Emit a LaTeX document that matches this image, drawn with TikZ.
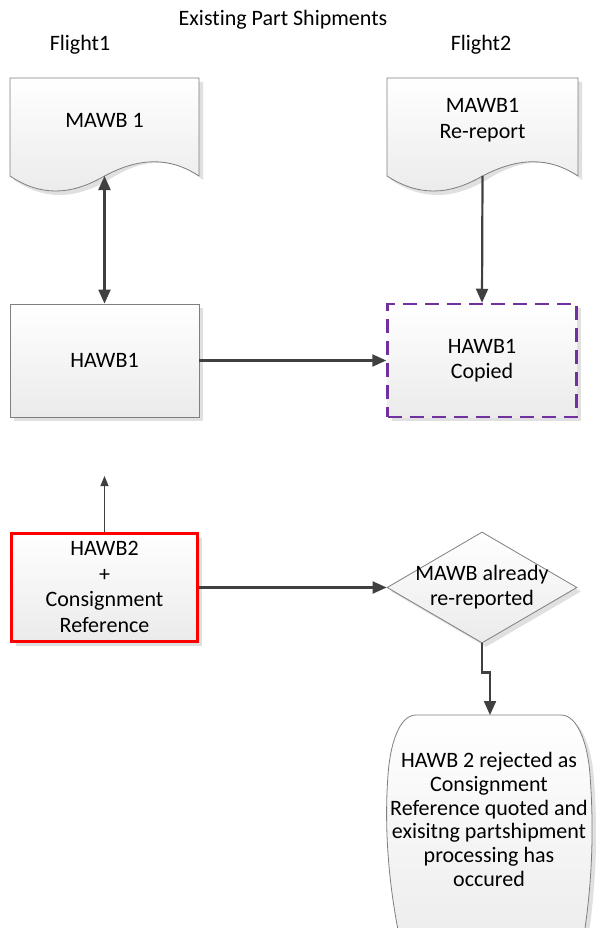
\documentclass[tikz,border=0pt]{standalone}
\usepackage{fontspec}
\setmainfont{Carlito}[Ligatures={NoCommon}]
\usetikzlibrary{arrows.meta,shapes.geometric,shadows}
\definecolor{arrgray}{HTML}{404040}
\definecolor{edgegray}{HTML}{7F7F7F}
\definecolor{shadowgray}{HTML}{E0E0E0}
\definecolor{vpurple}{HTML}{7030A0}
\tikzset{
  lbl/.style={font=\fontsize{22}{25.5}\selectfont, align=center, inner sep=0pt},
  shapefill/.style={top color=white, bottom color=black!8},
  shdw/.style={drop shadow={shadow xshift=4pt, shadow yshift=-4pt, fill=shadowgray, opacity=1}},
  boxshape/.style={draw=edgegray, line width=0.8pt, shapefill, shdw, minimum width=189pt, minimum height=113pt, inner sep=0pt},
  redbox/.style={boxshape, draw=red, line width=3pt, minimum width=186pt, minimum height=108pt},
  copybox/.style={boxshape, draw=vpurple, line width=2.5pt, dash pattern=on 14pt off 8pt},
  decision/.style={diamond, draw=edgegray, line width=0.8pt, shapefill, shdw, minimum width=190pt, minimum height=111pt, inner sep=0pt},
  arr/.style={draw=arrgray, line width=2.2pt, -{Triangle[length=14pt,width=12pt]}},
  darr/.style={draw=arrgray, line width=2.2pt, {Triangle[length=14pt,width=12pt]}-{Triangle[length=14pt,width=12pt]}},
  thinarr/.style={draw=arrgray, line width=0.8pt, -{Triangle[length=10pt,width=8pt]}},
}
\begin{document}
\begin{tikzpicture}[x=1pt,y=-1pt]
\useasboundingbox (0,0) rectangle (595,928);

% titles
\node[lbl] (title) at (283,20) {Existing Part Shipments};
\node[lbl] (fl1) at (80,45) {Flight1};
\node[lbl] (fl2) at (481,45) {Flight2};

% document shapes (shadow first)
\fill[shadowgray] (14,82) -- (203,82) -- (203,180) .. controls (174,157) and (144,157) .. (108.5,180) .. controls (74,200) and (44,200) .. (14,180) -- cycle;
\path[draw=edgegray, line width=0.8pt, shapefill] (10,78) -- (199,78) -- (199,176) .. controls (170,157) and (140,157) .. (104.5,176) .. controls (70,196) and (40,196) .. (10,176) -- cycle;
\node[lbl] (mawb1) at (104.5,120) {MAWB 1};
\coordinate (mawb1b) at (104.5,176);

\fill[shadowgray] (391,82) -- (582,82) -- (582,180) .. controls (553,157) and (523,157) .. (486.5,180) .. controls (452,200) and (422,200) .. (391,180) -- cycle;
\path[draw=edgegray, line width=0.8pt, shapefill] (387,78) -- (578,78) -- (578,176) .. controls (549,157) and (519,157) .. (482.5,176) .. controls (448,196) and (418,196) .. (387,176) -- cycle;
\node[lbl] (rerep) at (482.5,120) {MAWB1\\Re-report};
\coordinate (rerepb) at (482.5,176);

% boxes
\node[boxshape] (hawb1) at (104.5,360.5) {};
\node[lbl] (hawb1t) at (104.5,360.5) {HAWB1};
\node[copybox] (copied) at (482,360.5) {};
\node[lbl] (copiedt) at (482,360.5) {HAWB1\\Copied};

\node[redbox] (hawb2) at (104.5,587.5) {};
\node[lbl] (hawb2t) at (104.5,587) {HAWB2\\+\\Consignment\\Reference};
\coordinate (up) at (104.5,476);

\node[decision] (dia) at (482,587.5) {};
\node[lbl] (diat) at (482,587) {MAWB already\\re-reported};

% terminal
\fill[shadowgray] (420,719) -- (565,719) .. controls (582,719) and (592,749) .. (594,779) .. controls (597,819) and (598,874) .. (588,939) -- (588,970) -- (403,970) -- (403,939) .. controls (390,874) and (389,819) .. (392,779) .. controls (394,749) and (403,719) .. (420,719) -- cycle;
\path[draw=edgegray, line width=0.8pt, shapefill] (416,715) -- (561,715) .. controls (578,715) and (588,745) .. (590,775) .. controls (593,815) and (594,870) .. (584,935) -- (584,966) -- (399,966) -- (399,935) .. controls (386,870) and (385,815) .. (388,775) .. controls (390,745) and (399,715) .. (416,715) -- cycle;
\node[lbl, font=\fontsize{22}{23.8}\selectfont] (term) at (489,819.5) {HAWB 2 rejected as\\Consignment\\Reference quoted and\\exisitng partshipment\\processing has\\occured};
\coordinate (termtop) at (490,715);

% connectors
\draw[darr] (mawb1b) -- (hawb1.north);
\draw[arr] (rerepb) -- (copied.north);
\draw[arr] (hawb1.east) -- (copied.west);
\draw[thinarr] (hawb2.north) -- (up);
\draw[arr] (hawb2.east) -- (dia.west);
\draw[arr] (dia.south) -- ++(0,29) -| (termtop);
\end{tikzpicture}
\end{document}
